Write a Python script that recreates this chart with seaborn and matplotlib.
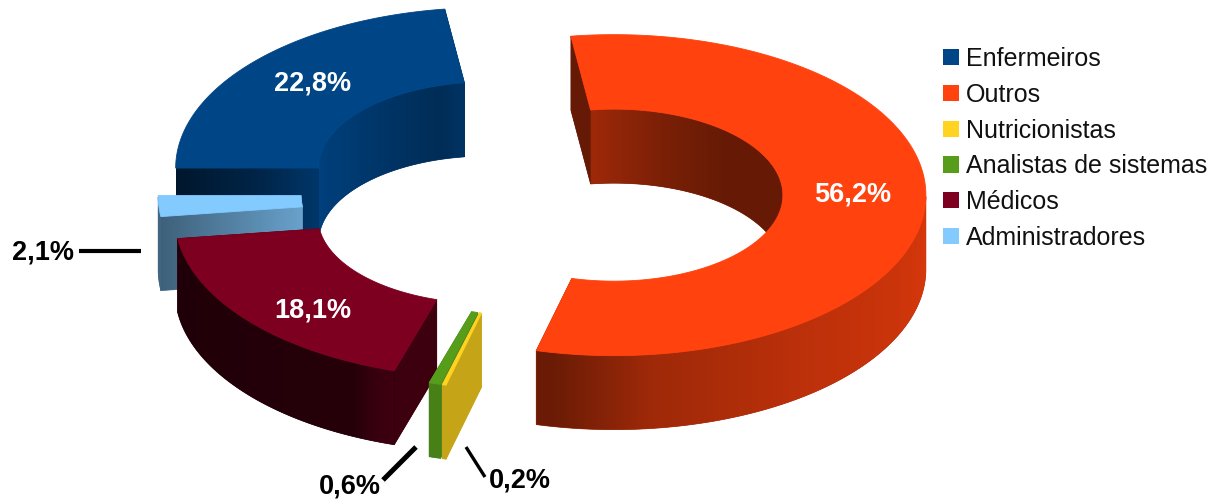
import numpy as np
import matplotlib
matplotlib.use("Agg")
import matplotlib.pyplot as plt
from matplotlib.patches import Patch, Polygon
import seaborn as sns

# ---- data ----
categories = ["Enfermeiros", "Outros", "Nutricionistas", "Analistas de sistemas", "Médicos", "Administradores"]
values = [22.8, 56.2, 0.2, 0.6, 18.1, 2.1]
labels = ["22,8%", "56,2%", "0,2%", "0,6%", "18,1%", "2,1%"]
colors = ["#004586", "#FF420E", "#FFD320", "#579D1C", "#7E0021", "#83CAFF"]

# ---- geometry of the projected ring (pixels of the figure) ----
CX, CY = 542, 193
A, B = 312, 160.5
IA, IB = 169, 86
DEPTH = 74
EXPLODE_X, EXPLODE_Y = 72, 38
START = -90.0

# brightness stops (fraction along the edge, factor) for the side faces
outer_shade = {"Enfermeiros": [(0, .45), (1, .45)],
               "Outros": [(0, .85), (.5, .74), (.8, .62), (.88, .52), (.97, .42), (1, .42)],
               "Nutricionistas": [(0, .78), (1, .78)], "Analistas de sistemas": [(0, .82), (1, .82)],
               "Médicos": [(0, .5), (.07, .42), (.12, .3), (1, .25)], "Administradores": [(0, .5), (1, .5)]}
inner_shade = {"Enfermeiros": [(0, .95), (.45, .85), (.9, .65), (1, .75)],
               "Outros": [(0, .62), (.25, .48), (.5, .40), (1, .40)]}
start_face = {"Enfermeiros": [(0, .33), (.6, .55), (1, .8)], "Outros": [(0, .40), (1, .40)],
              "Nutricionistas": [(0, .78), (1, .78)], "Analistas de sistemas": [(0, .82), (1, .82)],
              "Médicos": [(0, .48), (1, .48)], "Administradores": [(0, .48), (1, .80)]}
end_face = {"Administradores": [(0, .5), (1, .5)], "Enfermeiros": [(0, .5), (1, .5)], "Outros": [(0, .5), (1, .5)],
            "Nutricionistas": [(0, .78), (1, .78)], "Analistas de sistemas": [(0, .82), (1, .82)],
            "Médicos": [(0, .45), (1, .45)]}
draw_order = ["Enfermeiros", "Administradores", "Médicos", "Outros", "Analistas de sistemas", "Nutricionistas"]

sns.set_theme(style="white")
plt.rcParams["font.family"] = ["Liberation Sans", "DejaVu Sans"]
palette = dict(zip(categories, sns.color_palette(colors)))

fig, ax = plt.subplots(figsize=(12.24, 5.01), dpi=100)
ax.set_position([0, 0, 1, 1])
ax.axis("off")

spans = np.cumsum([0] + [v * 3.6 for v in values]) + START
span_of = {c: (spans[i], spans[i + 1]) for i, c in enumerate(categories)}


def ring_point(cx, cy, a, b, deg):
    t = np.radians(deg)
    return cx + a * np.sin(t), cy - b * np.cos(t)


def wall(x, y, stops, base, zorder):
    """Vertical wall hanging below the edge (x, y), with a horizontal gradient."""
    x, y = np.asarray(x), np.asarray(y)
    outline = np.r_[np.c_[x, y], np.c_[x, y + DEPTH][::-1]]
    frac = np.linspace(0, 1, len(x))
    order = np.argsort(x)
    xs = np.linspace(x.min(), x.max(), 300)
    f = np.interp(np.interp(xs, x[order], frac[order]), *zip(*stops))
    grad = np.clip(np.outer(f, base), 0, 1)[None, :, :]
    under = tuple(np.clip(np.array(base) * f.mean(), 0, 1))
    clip = Polygon(outline, closed=True, transform=ax.transData, facecolor=under, edgecolor=under,
                   linewidth=.5, zorder=zorder)
    ax.add_patch(clip)
    im = ax.imshow(grad, extent=(x.min(), x.max() + .01, outline[:, 1].max(), outline[:, 1].min()),
                   aspect="auto", interpolation="bilinear", zorder=zorder)
    im.set_clip_path(clip)


for z, name in enumerate(draw_order):
    a0, a1 = span_of[name]
    mid = np.radians((a0 + a1) / 2)
    cx = CX + EXPLODE_X * np.sin(mid)
    cy = CY - EXPLODE_Y * np.cos(mid)
    base = palette[name]
    th = np.linspace(a0, a1, max(int((a1 - a0) * 2), 6))
    ox, oy = ring_point(cx, cy, A, B, th)
    ix, iy = ring_point(cx, cy, IA, IB, th)
    zb = z * 10

    # cut faces: the segment's far end first, then its near end
    for k, (deg, stops) in enumerate(((a1, end_face[name]), (a0, start_face[name]))):
        o = ring_point(cx, cy, A, B, deg)
        n = ring_point(cx, cy, IA, IB, deg)
        s = np.linspace(0, 1, 30)
        wall(o[0] + (n[0] - o[0]) * s, o[1] + (n[1] - o[1]) * s, stops, base, zb + k * .5)
    # inner wall: only the far half of the hole looks at the viewer
    vis = np.cos(np.radians(th)) > 0
    if vis.any() and name in inner_shade:
        wall(ix[vis], iy[vis], inner_shade[name], base, zb + 1)
    # outer wall: only the near half
    vis = np.cos(np.radians(th)) <= 0
    if vis.any():
        wall(ox[vis], oy[vis], outer_shade[name], base, zb + 2)
    # top face
    top = np.r_[np.c_[ox, oy], np.c_[ix, iy][::-1]]
    ax.add_patch(Polygon(top, closed=True, facecolor=base, edgecolor=base, linewidth=.6, zorder=zb + 3))

ax.set_xlim(0, 1224)
ax.set_ylim(501, 0)

# value labels
label_of = dict(zip(categories, labels))
for name, xy in (("Enfermeiros", (312.5, 83)), ("Outros", (853, 195)), ("Médicos", (312.5, 311))):
    ax.text(*xy, label_of[name], color="white", fontsize=19.5, fontweight="bold", ha="center", va="center", zorder=200)
for name, xy in (("Administradores", (43, 252)), ("Analistas de sistemas", (349.5, 487)), ("Nutricionistas", (520, 481))):
    ax.text(*xy, label_of[name], color="black", fontsize=19.5, fontweight="bold", ha="center", va="center", zorder=200)

# leader lines
ax.plot([79, 141], [251, 251], color="black", lw=3, solid_capstyle="butt", zorder=200)
ax.plot([383, 416], [480, 447], color="black", lw=3.6, solid_capstyle="butt", zorder=200)
ax.plot([466, 485], [447, 477], color="black", lw=2.4, solid_capstyle="butt", zorder=200)

# legend
handles = [Patch(facecolor=palette[c], edgecolor="none", label=c) for c in categories]
ax.legend(handles=handles, loc="upper left", bbox_to_anchor=(938, 42), bbox_transform=ax.transData,
          frameon=False, fontsize=18, handlelength=.62, handleheight=.62, handletextpad=.3,
          labelspacing=.47, borderpad=0.2, borderaxespad=0, labelcolor="#111111")

fig.savefig("out.png", dpi=100, facecolor="white")
